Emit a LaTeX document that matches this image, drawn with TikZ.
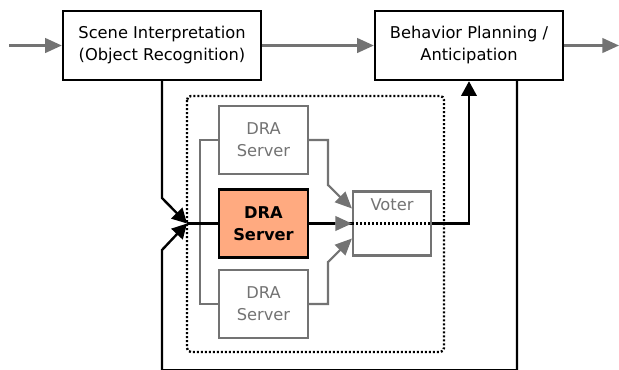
\documentclass[tikz,border=0pt]{standalone}
\usepackage{fontspec}
\setmainfont{DejaVu Sans}
\usetikzlibrary{arrows.meta}
\definecolor{linegrey}{RGB}{115,115,115}
\definecolor{peach}{RGB}{255,170,128}
\begin{document}
\begin{tikzpicture}[x=0.75pt,y=-0.75pt,
  txt/.style={font=\fontsize{12.2}{16.5}\selectfont, align=center},
  mainbox/.style={txt, draw=black, line width=1.8pt, fill=white, inner sep=0pt},
  serverbox/.style={txt, draw=linegrey, text=linegrey, line width=1.6pt, fill=white,
    minimum width=89*0.75pt, minimum height=68*0.75pt, inner sep=0pt},
  gline/.style={draw=linegrey, line width=1.6pt},
  garrow/.style={gline, -{Triangle[length=12.5pt,width=11pt]}},
  bline/.style={draw=black, line width=1.8pt},
  barrow/.style={bline, -{Triangle[length=11pt,width=11.5pt]}},
  dots/.style={draw=black, line width=1.8pt, dash pattern=on 1.5pt off 1.5pt}]
\useasboundingbox (0,0) rectangle (619,369);

% upper processing chain
\node[mainbox, minimum width=198*0.75pt, minimum height=69*0.75pt] (scene) at (162,45.5)
  {Scene Interpretation\\(Object Recognition)};
\node[mainbox, minimum width=188*0.75pt, minimum height=69*0.75pt] (behav) at (469,45.5)
  {Behavior Planning /\\Anticipation};
\coordinate (in) at (9,45.5);
\coordinate (out) at (619,45.5);

% redundant DRA block
\draw[dots, rounded corners=3pt] (187,96) rectangle (444,352);
\node[serverbox] (dra1) at (263.5,140) {DRA\\Server};
\node[serverbox, draw=black, text=black, fill=peach, line width=1.8pt,
  font=\fontsize{12.2}{16.5}\selectfont\bfseries]
  (dra2) at (263.5,223.5) {DRA\\Server};
\node[serverbox] (dra3) at (263.5,304) {DRA\\Server};
\node[serverbox, minimum width=78*0.75pt, minimum height=64*0.75pt] (voter) at (392,223.5) {};
\node[txt, text=linegrey, anchor=center] (voterlbl) at (392,205) {Voter};

\coordinate (J) at (187,223.5);
\coordinate (sbend) at (162,198);
\coordinate (lp) at (517,370.3);
\coordinate (lq) at (162,370.3);
\coordinate (lbend) at (162,250);
\coordinate (gx) at (200,0);
\coordinate (tx) at (328,0);
\coordinate (tbend) at (328,185);
\coordinate (bbend) at (328,262);

% chain arrows
\draw[garrow] (in) -- (scene.west);
\draw[garrow] (scene.east) -- (behav.west);
\draw[garrow] (behav.east) -- (out);

% inputs into the block and the feedback loop
\draw[barrow] (scene.south) -- (sbend) -- (J);
\draw[barrow] (behav.south -| lp) -- (lp) -- (lq) -- (lbend) -- (J);

% fan-out to the replicas
\draw[gline] (dra1.west) -- (dra1.west -| gx) -- (dra3.west -| gx) -- (dra3.west);

% active path
\draw[bline] (J) -- (dra2.west);
\draw[bline] (dra2.east) -- (voter.west);
\draw[dots] (voter.west) -- (voter.east);
\draw[barrow] (voter.east) -| (behav.south);

% replica outputs into the voter
\draw[garrow] (dra1.east) -- (dra1.east -| tx) -- (tbend) -- ([yshift=11.25pt]voter.west);
\draw[garrow] ([xshift=-12.5pt]voter.west) -- (voter.west);
\draw[garrow] (dra3.east) -- (dra3.east -| tx) -- (bbend) -- ([yshift=-11.25pt]voter.west);
\end{tikzpicture}
\end{document}
